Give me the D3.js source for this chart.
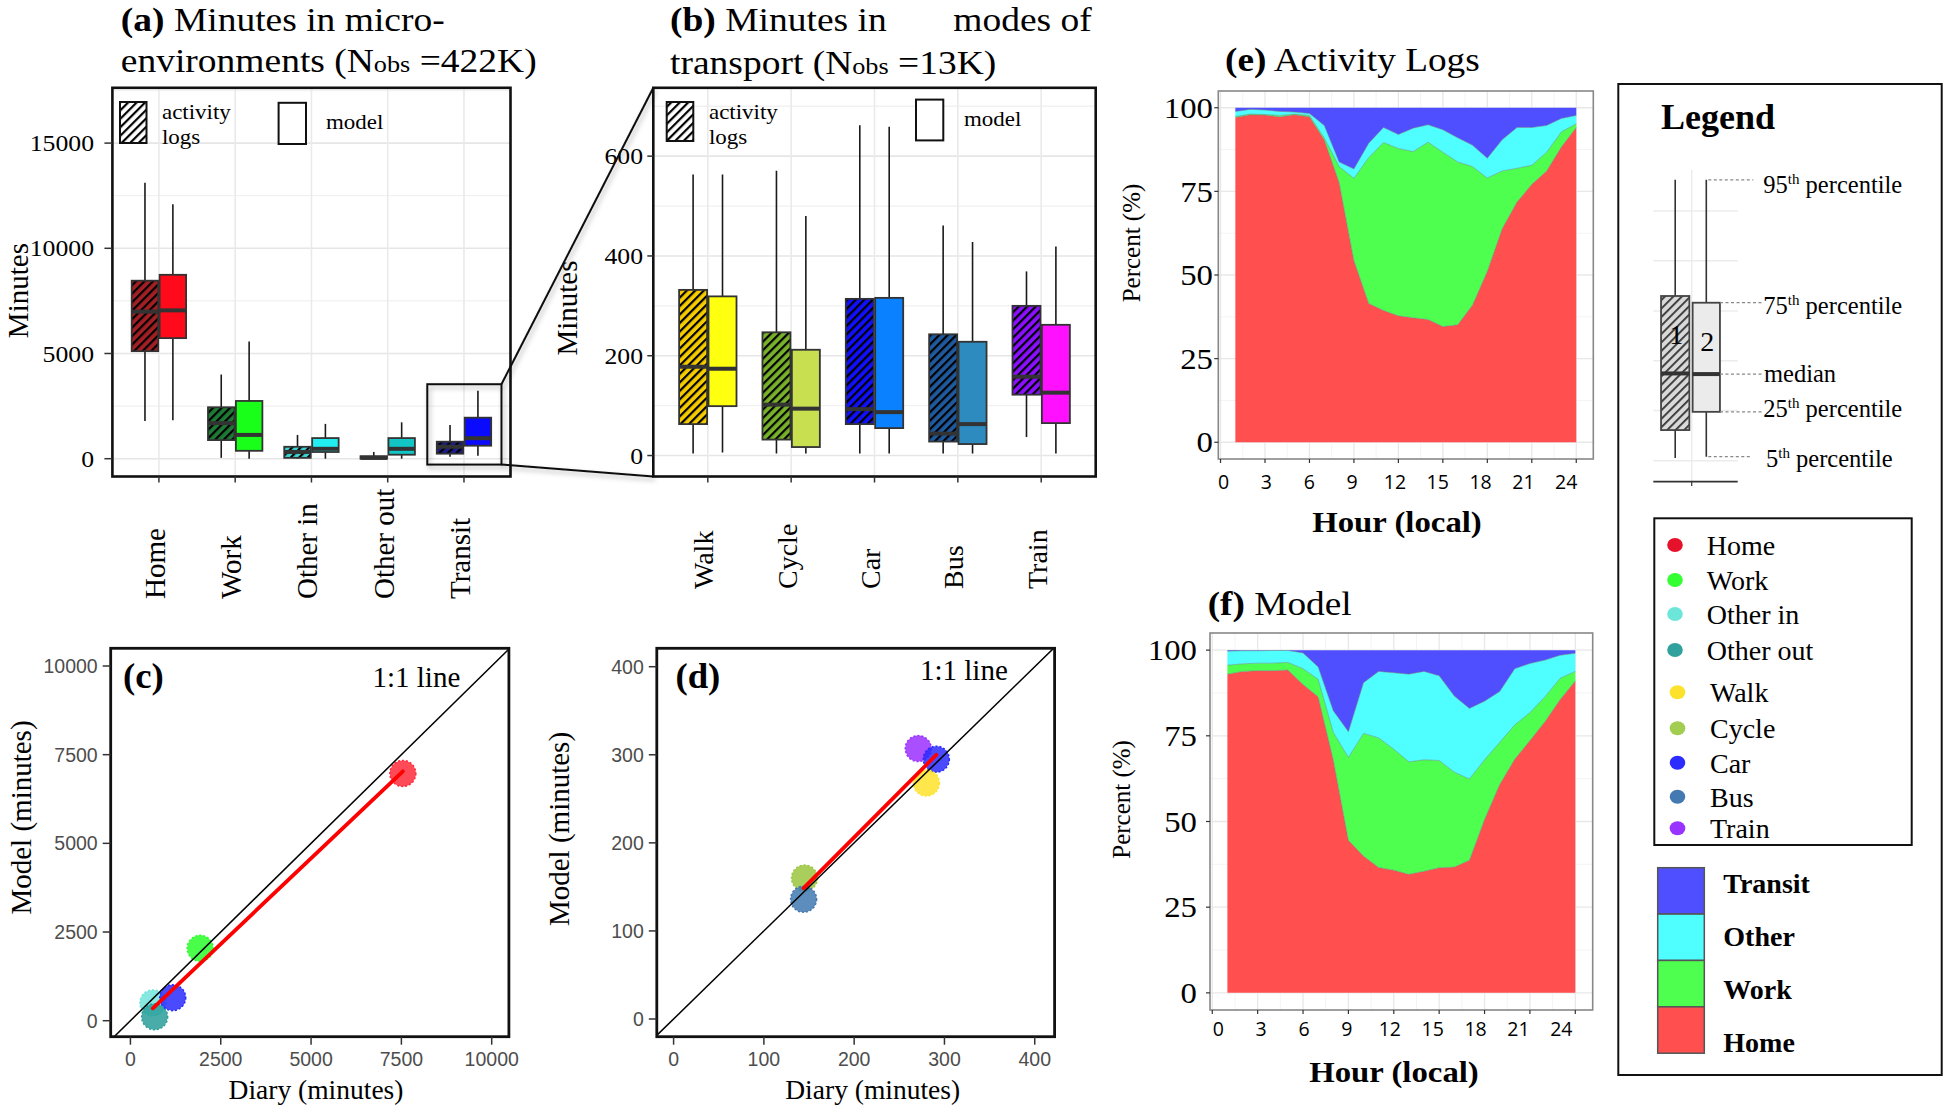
<!DOCTYPE html>
<html><head><meta charset="utf-8">
<script src="https://cdn.jsdelivr.net/npm/d3@7"></script>
<style>body{margin:0;background:#fff} text{white-space:pre}</style>
</head><body>
<script>
// ================= DATA =================
const envCats = ["Home","Work","Other in","Other out","Transit"];
// [5th, 25th, median, 75th, 95th] minutes
const envLogs  = [[1790,5110,6990,8460,13120],[40,885,1690,2445,4000],[0,40,320,566,1130],[0,0,40,120,320],[95,238,570,808,1600]];
const envModel = [[1830,5730,7050,8740,12090],[0,375,1130,2745,5565],[0,318,470,980,1655],[0,190,470,980,1730],[143,618,975,1950,3230]];
const envTicks = [0,5000,10000,15000];

const modeCats = ["Walk","Cycle","Car","Bus","Train"];
const modeLogs  = [[4,63,178,332,563],[4,32,102,247,571],[4,63,93,314,662],[4,28,44,243,461],[37,122,158,300,369]];
const modeModel = [[6,99,174,319,563],[4,17,94,212,480],[4,55,87,316,659],[4,23,63,228,428],[4,65,126,262,419]];
const modeTicks = [0,200,400,600];

const envDiary     = [7540,1930,620,670,1170];
const envModelMean = [6970,2040,500,110,650];
const envScatterTicks = [0,2500,5000,7500,10000];
const modeDiary     = [280,145,291,144,271];
const modeModelMean = [268,160,295,136,307];
const modeScatterTicks = [0,100,200,300,400];

const hours = [1,2,3,4,5,6,7,8,9,10,11,12,13,14,15,16,17,18,19,20,21,22,23,24];
const hourTicks = [0,3,6,9,12,15,18,21,24];
const pctTicks = [0,25,50,75,100];
const stackKeys = ["Home","Work","Other","Transit"];
const logsHome    = [97.1,97.9,97.8,97.3,97.9,97.3,90.4,77.7,54.3,41.5,39.4,37.8,37.2,36.7,34.6,35.1,41,51.1,63.8,71.8,77.1,81.1,88.3,94.1];
const logsWork    = [0.3,0.2,0.2,0.4,0.2,0.4,0.6,4.7,24.6,43.6,50.2,50,49.7,53,52.1,48.7,41.4,27.9,17.3,10.1,5.7,5.6,4.5,1.1];
const logsOther   = [1.5,1.4,1.3,1.2,0.6,0.6,3.7,1.4,2.8,4.3,4.5,4.2,7,5.2,6.7,7.2,6.4,5.9,9.3,12.2,11.3,8,4,2.5];
const logsTransit = [1.1,0.5,0.7,1.1,1.3,1.7,5.3,16.2,18.3,10.6,5.9,8,6.1,5.1,6.6,9,11.2,15.1,9.6,5.9,5.9,5.3,3.2,2.3];
const modelHome    = [93,93.8,94,94,94.2,90,86.4,68,44.5,39.9,36.6,35.8,34.6,35.5,36.5,36.7,38.7,50.6,60.8,68.2,73.6,79.2,85.6,91];
const modelWork    = [2.6,2.2,2.2,2.2,2.2,4.6,5.1,8,24.2,35.8,37.8,35.3,32.8,32.5,31.3,27.7,23.7,17.4,12.3,10,8.2,7.2,6.2,2.8];
const modelOther   = [4.1,3.8,3.6,3.7,3.5,4.6,3.6,6.3,7.5,14.8,19.4,22.3,25.6,25.8,24.7,22.2,20.6,17.1,14.8,16.4,14.3,10.7,6.7,5.3];
const modelTransit = [0.3,0.2,0.2,0.1,0.1,0.8,4.9,17.7,23.8,9.5,6.2,6.6,7,6.2,7.5,13.4,17,14.9,12.1,5.4,3.9,2.9,1.5,0.9];

const legendPctLabels = ["95","75","median","25","5"];
const legendBox1 = [6.9,15.6,33.3,57.5,93.8];
const legendBox2 = [7.3,21.3,33.1,55.4,93.8];
const legendGrid = [6,21.7,37.3,52.8,68.5,84.1];
const pointLegend = ["Home","Work","Other in","Other out","Walk","Cycle","Car","Bus","Train"];
const fillLegend = ["Transit","Other","Work","Home"];
const zoomRange = [-280,3540];

// ================= STYLES =================
const envLogColors   = ["#a31f24","#1e7a34","#3fd3d3","#3a3a3a","#1c1c8a"];
const envModelColors = ["#ff0a1a","#1aff1a","#22eef2","#12c6c6","#0a0aff"];
const modeLogColors  = ["#f5cc00","#78b22a","#1010ff","#1f5a9e","#8a10ff"];
const modeModelColors= ["#ffff10","#c8e050","#0a82ff","#2e8bc0","#ff10ff"];
const envPtColors  = ["#ff2a3a","#2aff2a","#72e4dc","#2a9d9a","#2a2aff"];
const modePtColors = ["#ffe22a","#9bc63f","#2a2aff","#4079b0","#9a30ff"];
const areaColors = ["#ff4f4f","#4fff4f","#4fffff","#4f4fff"];
const pointLegendColors = ["#e6112b","#33ff33","#6de6da","#31a19d","#fde22c","#a3cd51","#2c2cff","#4479b1","#9933ff"];
const fillLegendColors = ["#4f4fff","#4fffff","#4fff4f","#ff4f4f"];

const SERIF = "'Liberation Serif','Times New Roman',serif";
const SANS  = "'Liberation Sans',Arial,sans-serif";
const OPEN  = "'Open Sans','Noto Sans',sans-serif";

const W = 1944, H = 1110;
const svg = d3.select("body").append("svg").attr("width",W).attr("height",H).style("display","block");
svg.append("rect").attr("width",W).attr("height",H).attr("fill","#fff");
const defs = svg.append("defs");
const pat = defs.append("pattern").attr("id","hatch").attr("patternUnits","userSpaceOnUse")
  .attr("width",6).attr("height",6).attr("patternTransform","rotate(45)");
pat.append("rect").attr("width",2.2).attr("height",6).attr("fill","#000");
const pat2 = defs.append("pattern").attr("id","hatchGray").attr("patternUnits","userSpaceOnUse")
  .attr("width",6).attr("height",6).attr("patternTransform","rotate(45)");
pat2.append("rect").attr("width",1.8).attr("height",6).attr("fill","#333");
const flt = defs.append("filter").attr("id","shadow").attr("x","-20%").attr("y","-20%").attr("width","140%").attr("height","140%");
flt.append("feDropShadow").attr("dx",2).attr("dy",3).attr("stdDeviation",2.5).attr("flood-color","#000").attr("flood-opacity",0.3);

function label(g, x, y, str, o={}) {
  const t = g.append("text")
    .attr("transform", `translate(${x},${y}) scale(${o.sx||1},1) rotate(${o.rot||0})`)
    .attr("font-family", o.ff||SERIF).attr("font-size", o.fs||20)
    .attr("font-weight", o.fw||"normal").attr("text-anchor", o.anchor||"start")
    .attr("fill", o.fill||"#000");
  if (o.dy) t.attr("dy", o.dy);
  t.text(str);
  return t;
}
function rich(x, y, parts, o={}) {
  const t = svg.append("text").attr("transform",`translate(${x},${y}) scale(${o.sx||1},1)`)
    .attr("font-family", o.ff||SERIF).attr("font-size", o.fs).attr("fill","#000");
  parts.forEach(p => {
    const s = t.append("tspan").text(p.t);
    if (p.b) s.attr("font-weight","bold");
    if (p.fs) s.attr("font-size", p.fs);
    if (p.dy) s.attr("dy", p.dy);
  });
  return t;
}

// ================= BOX PANELS =================
function boxPanel(o) {
  const g = svg.append("g");
  const x = d3.scalePoint().domain(o.cats).range([o.x0,o.x1]).padding(o.pad);
  const y = d3.scaleLinear().domain(o.dom).range([o.y1,o.y0]);
  const minor = d3.range(o.step/2, o.dom[1], o.step);
  g.selectAll(null).data(minor).join("line").attr("x1",o.x0).attr("x2",o.x1)
    .attr("y1",d=>y(d)).attr("y2",d=>y(d)).attr("stroke","#f1f1f1").attr("stroke-width",1.3);
  g.selectAll(null).data(o.ticks).join("line").attr("x1",o.x0).attr("x2",o.x1)
    .attr("y1",d=>y(d)).attr("y2",d=>y(d)).attr("stroke","#e6e6e6").attr("stroke-width",1.6);
  g.selectAll(null).data(o.cats).join("line").attr("x1",d=>x(d)).attr("x2",d=>x(d))
    .attr("y1",o.y0).attr("y2",o.y1).attr("stroke","#eaeaea").attr("stroke-width",1.6);
  const w = o.bw;
  [[o.logs,o.cLogs,true,-1],[o.model,o.cModel,false,1]].forEach(([arr,cols,hatch,side]) => {
    arr.forEach((v,i) => {
      const cx = x(o.cats[i]) + side*(w/2+0.7);
      const [p5,q1,med,q3,p95] = v;
      g.append("line").attr("x1",cx).attr("x2",cx).attr("y1",y(p95)).attr("y2",y(p5))
        .attr("stroke","#1a1a1a").attr("stroke-width",1.6);
      const bx = cx-w/2, by = y(q3), bh = Math.max(y(q1)-y(q3),1);
      g.append("rect").attr("x",bx).attr("y",by).attr("width",w).attr("height",bh).attr("fill",cols[i]);
      if (hatch) g.append("rect").attr("x",bx).attr("y",by).attr("width",w).attr("height",bh).attr("fill","url(#hatch)");
      g.append("rect").attr("x",bx).attr("y",by).attr("width",w).attr("height",bh)
        .attr("fill","none").attr("stroke","#333").attr("stroke-width",1.8);
      g.append("line").attr("x1",bx).attr("x2",bx+w).attr("y1",y(med)).attr("y2",y(med))
        .attr("stroke","#333").attr("stroke-width",4);
    });
  });
  g.append("rect").attr("x",o.x0).attr("y",o.y0).attr("width",o.x1-o.x0).attr("height",o.y1-o.y0)
    .attr("fill","none").attr("stroke","#111").attr("stroke-width",2.6);
  g.selectAll(null).data(o.ticks).join("line").attr("x1",o.x0-o.tl).attr("x2",o.x0)
    .attr("y1",d=>y(d)).attr("y2",d=>y(d)).attr("stroke","#333").attr("stroke-width",1.5);
  o.ticks.forEach(t => label(g, o.labX, y(t), String(t), {fs:23, sx:1.12, anchor:"end", dy:"0.35em"}));
  g.selectAll(null).data(o.cats).join("line").attr("x1",d=>x(d)).attr("x2",d=>x(d))
    .attr("y1",o.y1).attr("y2",o.y1+6).attr("stroke","#333").attr("stroke-width",1.5);
  o.cats.forEach(c => label(g, x(c), o.catY, c, {fs:o.catFs, rot:-90, dy:"0.2em"}));
  return {x,y,g};
}

const A = boxPanel({cats:envCats, logs:envLogs, model:envModel, cLogs:envLogColors, cModel:envModelColors,
  x0:112.4, x1:510.5, y0:87.8, y1:476.5, pad:0.61, dom:[-846,17628], ticks:envTicks, step:5000,
  bw:26.5, labX:94, tl:8, catY:599, catFs:29});
const B = boxPanel({cats:modeCats, logs:modeLogs, model:modeModel, cLogs:modeLogColors, cModel:modeModelColors,
  x0:653.3, x1:1095.7, y0:87.8, y1:476.5, pad:0.654, dom:[-42,737], ticks:modeTicks, step:200,
  bw:28, labX:643, tl:6, catY:589, catFs:28});

// in-panel legends
function miniLegend(hx, hy, hw, hh, tx, mx, my, mw, mh, mtx, mty) {
  svg.append("rect").attr("x",hx).attr("y",hy).attr("width",hw).attr("height",hh).attr("fill","#fff");
  svg.append("rect").attr("x",hx).attr("y",hy).attr("width",hw).attr("height",hh).attr("fill","url(#hatch)");
  svg.append("rect").attr("x",hx).attr("y",hy).attr("width",hw).attr("height",hh).attr("fill","none").attr("stroke","#111").attr("stroke-width",2);
  label(svg, tx, 118.6, "activity", {fs:20.5, sx:1.12});
  label(svg, tx, 144, "logs", {fs:20.5, sx:1.12});
  svg.append("rect").attr("x",mx).attr("y",my).attr("width",mw).attr("height",mh).attr("fill","#fff").attr("stroke","#111").attr("stroke-width",2);
  label(svg, mtx, mty, "model", {fs:20.5, sx:1.12});
}
miniLegend(120,102,26.5,41,162, 278.6,102.8,27.4,41.2, 326,128.5);
miniLegend(666.7,102,26.6,39,709, 916,99.6,27.3,40.8, 964,125.7);

// axis titles
label(svg, 28, 290.6, "Minutes", {fs:29, rot:-90, anchor:"middle"});
label(svg, 577, 308, "Minutes", {fs:29, rot:-90, anchor:"middle"});

// zoom box + connectors
const zx0 = A.x("Transit") - 36.7, zx1 = A.x("Transit") + 37.5;
const zy0 = A.y(zoomRange[1]), zy1 = A.y(zoomRange[0]);
const zg = svg.append("g").attr("filter","url(#shadow)");
zg.append("rect").attr("x",zx0).attr("y",zy0).attr("width",zx1-zx0).attr("height",zy1-zy0)
  .attr("fill","none").attr("stroke","#111").attr("stroke-width",2);
zg.append("line").attr("x1",zx1).attr("y1",zy0).attr("x2",653.3).attr("y2",87.8).attr("stroke","#111").attr("stroke-width",2);
zg.append("line").attr("x1",zx1).attr("y1",zy1).attr("x2",653.3).attr("y2",476.5).attr("stroke","#111").attr("stroke-width",2);

// titles a, b
const obs = 33.5*0.7;
rich(120.8, 31, [{t:"(a)",b:1},{t:" Minutes in micro-"}], {fs:33.5, sx:1.12});
rich(120.8, 72, [{t:"environments (N"},{t:"obs",fs:obs},{t:" =422K)"}], {fs:33.5, sx:1.12});
rich(670, 31, [{t:"(b)",b:1},{t:" Minutes in"}], {fs:33.5, sx:1.12});
rich(953.3, 31, [{t:"modes of"}], {fs:33.5, sx:1.12});
rich(670, 73.5, [{t:"transport (N"},{t:"obs",fs:obs},{t:" =13K)"}], {fs:33.5, sx:1.12});

// ================= SCATTER PANELS =================
function linfit(xs, ys) {
  const mx = d3.mean(xs), my = d3.mean(ys);
  let sxy = 0, sxx = 0;
  xs.forEach((v,i) => { sxy += (v-mx)*(ys[i]-my); sxx += (v-mx)*(v-mx); });
  const b = sxy/sxx; return {b, a: my - b*mx};
}
function scatterPanel(o) {
  const g = svg.append("g");
  const x = d3.scaleLinear().domain(o.xd).range([o.x0,o.x1]);
  const y = d3.scaleLinear().domain(o.yd).range([o.y1,o.y0]);
  const cid = "clip"+o.id;
  defs.append("clipPath").attr("id",cid).append("rect").attr("x",o.x0).attr("y",o.y0).attr("width",o.x1-o.x0).attr("height",o.y1-o.y0);
  const pg = g.append("g").attr("clip-path",`url(#${cid})`);
  o.order.forEach(i => {
    pg.append("circle").attr("cx",x(o.xs[i])).attr("cy",y(o.ys[i])).attr("r",13)
      .attr("fill",o.cols[i]).attr("fill-opacity",0.85)
      .attr("stroke",o.cols[i]).attr("stroke-width",1.5).attr("stroke-dasharray","2,2");
  });
  const lo = Math.min(o.xd[0],o.yd[0]), hi = Math.max(o.xd[1],o.yd[1]);
  pg.append("line").attr("x1",x(lo)).attr("y1",y(lo)).attr("x2",x(hi)).attr("y2",y(hi))
    .attr("stroke","#000").attr("stroke-width",1.5);
  const fit = linfit(o.xs, o.ys);
  const xa = d3.min(o.xs), xb = d3.max(o.xs);
  pg.append("line").attr("x1",x(xa)).attr("y1",y(fit.a+fit.b*xa)).attr("x2",x(xb)).attr("y2",y(fit.a+fit.b*xb))
    .attr("stroke","#ff0000").attr("stroke-width",3.8).attr("stroke-linecap","round");
  g.append("rect").attr("x",o.x0).attr("y",o.y0).attr("width",o.x1-o.x0).attr("height",o.y1-o.y0)
    .attr("fill","none").attr("stroke","#111").attr("stroke-width",2.8);
  o.ticks.forEach(t => {
    g.append("line").attr("x1",o.x0-8).attr("x2",o.x0).attr("y1",y(t)).attr("y2",y(t)).attr("stroke","#333").attr("stroke-width",1.5);
    g.append("line").attr("x1",x(t)).attr("x2",x(t)).attr("y1",o.y1).attr("y2",o.y1+8).attr("stroke","#333").attr("stroke-width",1.5);
    label(g, o.x0-13, y(t), String(t), {ff:SANS, fs:19.5, fill:"#4d4d4d", anchor:"end", dy:"0.36em"});
    label(g, x(t), 1066, String(t), {ff:SANS, fs:19.5, fill:"#4d4d4d", anchor:"middle"});
  });
  label(g, o.tagX, 688, o.tag, {fs:35, fw:"bold", sx:1.05});
  label(g, o.oneX, o.oneY, "1:1 line", {fs:29});
  label(g, o.ytX, o.ytY, "Model (minutes)", {fs:29, rot:-90, anchor:"middle"});
  label(g, o.xtX, 1099, "Diary (minutes)", {fs:27.5, anchor:"middle"});
}
scatterPanel({id:"c", xs:envDiary, ys:envModelMean, cols:envPtColors, order:[0,1,2,3,4],
  x0:110.7, x1:508.9, y0:648.3, y1:1036.7, xd:[-546,10476], yd:[-451,10499], ticks:envScatterTicks,
  tag:"(c)", tagX:123, oneX:372.5, oneY:686.7, ytX:31, ytY:817.5, xtX:316});
scatterPanel({id:"d", xs:modeDiary, ys:modeModelMean, cols:modePtColors, order:[4,2,0,1,3],
  x0:656.8, x1:1054.6, y0:648.3, y1:1036.7, xd:[-18.6,422], yd:[-20.1,420.9], ticks:modeScatterTicks,
  tag:"(d)", tagX:675.4, oneX:920, oneY:680, ytX:569, ytY:829, xtX:872.7});

// ================= AREA PANELS =================
function areaPanel(o) {
  const g = svg.append("g");
  const x = d3.scaleLinear().domain([-0.15,25.15]).range([o.x0,o.x1]);
  const y = d3.scaleLinear().domain([-5,105]).range([o.y1,o.y0]);
  g.append("rect").attr("x",o.x0).attr("y",o.y0).attr("width",o.x1-o.x0).attr("height",o.y1-o.y0).attr("fill","#fff");
  const minX = d3.range(1.5, 25, 3), minY = d3.range(12.5, 105, 25);
  g.selectAll(null).data(minX).join("line").attr("x1",d=>x(d)).attr("x2",d=>x(d)).attr("y1",o.y0).attr("y2",o.y1).attr("stroke","#f4f4f4");
  g.selectAll(null).data(minY).join("line").attr("y1",d=>y(d)).attr("y2",d=>y(d)).attr("x1",o.x0).attr("x2",o.x1).attr("stroke","#f4f4f4");
  g.selectAll(null).data(hourTicks).join("line").attr("x1",d=>x(d)).attr("x2",d=>x(d)).attr("y1",o.y0).attr("y2",o.y1).attr("stroke","#e8e8e8").attr("stroke-width",1.3);
  g.selectAll(null).data(pctTicks).join("line").attr("y1",d=>y(d)).attr("y2",d=>y(d)).attr("x1",o.x0).attr("x2",o.x1).attr("stroke","#e8e8e8").attr("stroke-width",1.3);
  const rows = hours.map((h,i) => ({hour:h, Home:o.vals[0][i], Work:o.vals[1][i], Other:o.vals[2][i], Transit:o.vals[3][i]}));
  const series = d3.stack().keys(stackKeys)(rows);
  const area = d3.area().x(d=>x(d.data.hour)).y0(d=>y(d[0])).y1(d=>y(d[1]));
  g.selectAll(null).data(series).join("path").attr("d",area).attr("fill",(d,i)=>areaColors[i]);
  const line = d3.line().x(d=>x(d.data.hour)).y(d=>y(d[1]));
  g.selectAll(null).data(series.slice(0,3)).join("path").attr("d",line).attr("fill","none")
    .attr("stroke","#5f8f80").attr("stroke-width",0.8).attr("stroke-opacity",0.7);
  g.append("rect").attr("x",o.x0).attr("y",o.y0).attr("width",o.x1-o.x0).attr("height",o.y1-o.y0)
    .attr("fill","none").attr("stroke","#888").attr("stroke-width",1.6);
  pctTicks.forEach(t => {
    g.append("line").attr("x1",o.x0-4).attr("x2",o.x0).attr("y1",y(t)).attr("y2",y(t)).attr("stroke","#333").attr("stroke-width",1.2);
    label(g, o.ylabX, y(t), String(t), {fs:29, sx:1.13, anchor:"end", dy:"0.35em"});
  });
  const xl = d3.scaleLinear().domain([0,24]).range([x(0)+o.lshift[0], x(24)+o.lshift[1]]);
  hourTicks.forEach(t => {
    g.append("line").attr("x1",x(t)).attr("x2",x(t)).attr("y1",o.y1).attr("y2",o.y1+4).attr("stroke","#333").attr("stroke-width",1.2);
    label(g, xl(t), o.xlabY, String(t), {ff:OPEN, fs:19.5, anchor:"middle"});
  });
  label(g, o.hourX, o.hourY, "Hour (local)", {fs:29, fw:"bold", sx:1.13, anchor:"middle"});
  label(g, o.pctX, o.pctY, "Percent (%)", {fs:25, rot:-90, anchor:"middle"});
  rich(o.titleX, o.titleY, [{t:o.tag,b:1},{t:" "+o.title}], {fs:33, sx:1.13});
}
areaPanel({vals:[logsHome,logsWork,logsOther,logsTransit], x0:1218.3, x1:1593.3, y0:91, y1:459,
  ylabX:1213, xlabY:488.6, lshift:[3,-10], hourX:1397, hourY:532, pctX:1140, pctY:243,
  tag:"(e)", title:"Activity Logs", titleX:1225, titleY:71.4});
areaPanel({vals:[modelHome,modelWork,modelOther,modelTransit], x0:1210, x1:1592.7, y0:633, y1:1010,
  ylabX:1197, xlabY:1036.3, lshift:[6,-14], hourX:1394, hourY:1082, pctX:1130, pctY:799.4,
  tag:"(f)", title:"Model", titleX:1207.7, titleY:615.4});

// ================= LEGEND =================
const L = svg.append("g");
L.append("rect").attr("x",1618.3).attr("y",84).attr("width",323.4).attr("height",991)
  .attr("fill","#fff").attr("stroke","#111").attr("stroke-width",2);
label(L, 1661, 129.3, "Legend", {fs:36, fw:"bold"});
const ly = d3.scaleLinear().domain([0,100]).range([480,160]);
legendGrid.forEach(v => L.append("line").attr("x1",1653.3).attr("x2",1737.7).attr("y1",ly(v)).attr("y2",ly(v)).attr("stroke","#ececec").attr("stroke-width",1.5));
L.append("line").attr("x1",1691.7).attr("x2",1691.7).attr("y1",170).attr("y2",481).attr("stroke","#ececec").attr("stroke-width",1.5);
L.append("line").attr("x1",1653.3).attr("x2",1737.7).attr("y1",481.7).attr("y2",481.7).attr("stroke","#333").attr("stroke-width",1.8);
L.append("line").attr("x1",1691.7).attr("x2",1691.7).attr("y1",481.7).attr("y2",486).attr("stroke","#333").attr("stroke-width",1.2);
[[legendBox1,1675.2,28.3,"#d9d9d9",true,"1"],[legendBox2,1706.3,27.3,"#ebebeb",false,"2"]].forEach(([v,cx,w,fill,h,t]) => {
  const [p5,q1,med,q3,p95] = v;
  L.append("line").attr("x1",cx).attr("x2",cx).attr("y1",ly(p95)).attr("y2",ly(p5)).attr("stroke","#333").attr("stroke-width",1.6);
  L.append("rect").attr("x",cx-w/2).attr("y",ly(q3)).attr("width",w).attr("height",ly(q1)-ly(q3)).attr("fill",fill);
  if (h) L.append("rect").attr("x",cx-w/2).attr("y",ly(q3)).attr("width",w).attr("height",ly(q1)-ly(q3)).attr("fill","url(#hatchGray)");
  L.append("rect").attr("x",cx-w/2).attr("y",ly(q3)).attr("width",w).attr("height",ly(q1)-ly(q3)).attr("fill","none").attr("stroke","#444").attr("stroke-width",1.8);
  L.append("line").attr("x1",cx-w/2).attr("x2",cx+w/2).attr("y1",ly(med)).attr("y2",ly(med)).attr("stroke","#333").attr("stroke-width",4);
  label(L, cx+1, ly(q3)+48, t, {fs:28, anchor:"middle"});
});
// leader lines and percentile labels
const leadVals = [legendBox2[4], legendBox2[3], legendBox2[2], legendBox2[1], legendBox2[0]];
const leadX = [[1708.3,1753.3],[1720,1761.7],[1720,1761.7],[1720,1761.7],[1708.3,1751.7]];
const leadTextX = [1763.3,1763.3,1764,1763.3,1766];
const leadTextDy = [12.7,11.7,8.4,5.6,10.6];
legendPctLabels.forEach((p,i) => {
  const yy = ly(leadVals[i]);
  L.append("line").attr("x1",leadX[i][0]).attr("x2",leadX[i][1]).attr("y1",yy).attr("y2",yy)
    .attr("stroke","#888").attr("stroke-width",1.2).attr("stroke-dasharray","3,2.5");
  if (p === "median") {
    label(L, leadTextX[i], yy+leadTextDy[i], "median", {fs:24.5});
  } else {
    const t = L.append("text").attr("x",leadTextX[i]).attr("y",yy+leadTextDy[i])
      .attr("font-family",SERIF).attr("font-size",24.5);
    t.append("tspan").text(p);
    t.append("tspan").text("th").attr("font-size",15).attr("dy",-9);
    t.append("tspan").text(" percentile").attr("dy",9);
  }
});
// point legend
L.append("rect").attr("x",1654.3).attr("y",518.3).attr("width",257.4).attr("height",326.7)
  .attr("fill","#fff").attr("stroke","#111").attr("stroke-width",2);
const ptY = [545,580,614,650,692.3,728.3,762.7,796.7,828.3];
pointLegend.forEach((name,i) => {
  const cx = i < 4 ? 1675 : 1677.5, tx = i < 4 ? 1706.7 : 1710;
  L.append("ellipse").attr("cx",cx).attr("cy",ptY[i]).attr("rx",7.8).attr("ry",7).attr("fill",pointLegendColors[i]);
  label(L, tx, ptY[i]+10, name, {fs:28});
});
// fill legend
const fy = d3.scaleBand().domain(fillLegend).range([867.7,1053.2]);
const fty = d3.scalePoint().domain(fillLegend).range([893.3,1051.7]);
fillLegend.forEach((name,i) => {
  L.append("rect").attr("x",1657.7).attr("y",fy(name)).attr("width",46.6).attr("height",fy.bandwidth())
    .attr("fill",fillLegendColors[i]).attr("stroke","#555").attr("stroke-width",1.5);
  label(L, 1723.3, fty(name), name, {fs:28, fw:"bold"});
});
</script>
</body></html>
